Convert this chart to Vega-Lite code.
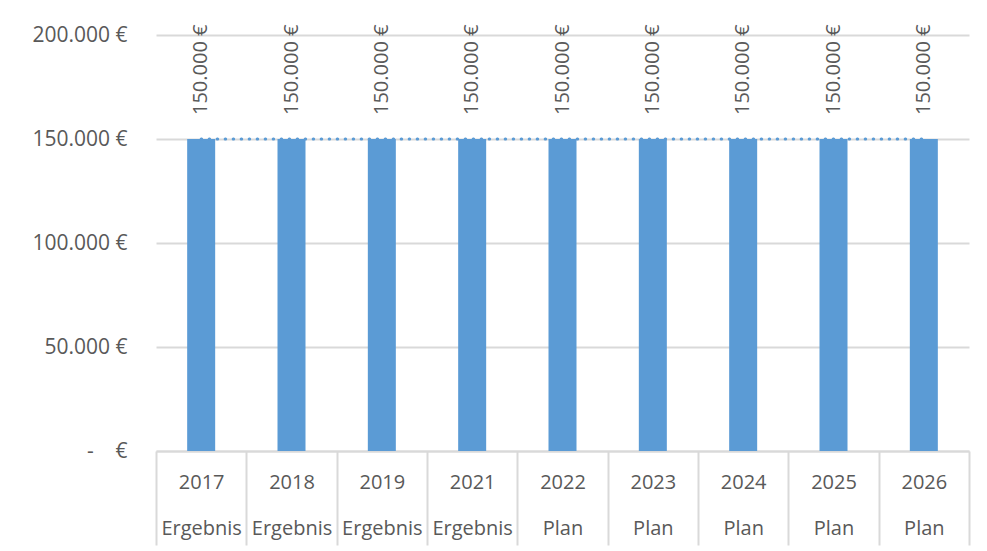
{
  "$schema": "https://vega.github.io/schema/vega-lite/v6.json",
  "width": 813,
  "height": 416,
  "autosize": {"type": "none"},
  "padding": {"left": 156, "top": 35, "right": 18, "bottom": 100},
  "background": "white",
  "config": {
    "locale": {"number": {"decimal": ",", "thousands": ".", "grouping": [3], "currency": ["", " €"]}},
    "view": {"stroke": null},
    "font": "Open Sans"
  },
  "data": {"values": [
    {"key": "2017|Ergebnis", "jahr": "2017", "art": "Ergebnis", "wert": 150000, "ziel": 150000},
    {"key": "2018|Ergebnis", "jahr": "2018", "art": "Ergebnis", "wert": 150000, "ziel": 150000},
    {"key": "2019|Ergebnis", "jahr": "2019", "art": "Ergebnis", "wert": 150000, "ziel": 150000},
    {"key": "2021|Ergebnis", "jahr": "2021", "art": "Ergebnis", "wert": 150000, "ziel": 150000},
    {"key": "2022|Plan", "jahr": "2022", "art": "Plan", "wert": 150000, "ziel": 150000},
    {"key": "2023|Plan", "jahr": "2023", "art": "Plan", "wert": 150000, "ziel": 150000},
    {"key": "2024|Plan", "jahr": "2024", "art": "Plan", "wert": 150000, "ziel": 150000},
    {"key": "2025|Plan", "jahr": "2025", "art": "Plan", "wert": 150000, "ziel": 150000},
    {"key": "2026|Plan", "jahr": "2026", "art": "Plan", "wert": 150000, "ziel": 150000}
  ]},
  "encoding": {
    "x": {
      "field": "key", "type": "nominal", "sort": null,
      "scale": {"paddingInner": 0.69, "paddingOuter": 0.345},
      "axis": {
        "title": null,
        "labelAngle": 0,
        "labelExpr": "isString(datum.value) ? split(datum.value, '|') : ''",
        "labelFont": "Open Sans",
        "labelFontSize": 20,
        "labelColor": "#595959",
        "labelLineHeight": 46,
        "labelPadding": -73,
        "labelOffset": 31.165,
        "ticks": true,
        "tickExtra": true,
        "bandPosition": 3.2258,
        "tickOffset": -31.165,
        "tickSize": 94,
        "tickWidth": 2,
        "tickColor": "#d9d9d9",
        "domainColor": "#d9d9d9",
        "domainWidth": 2,
        "grid": false
      }
    }
  },
  "layer": [
    {
      "mark": {"type": "bar", "color": "#5b9bd5"},
      "encoding": {
        "y": {
          "field": "wert", "type": "quantitative",
          "scale": {"domain": [0, 200000], "nice": false},
          "axis": {
            "title": null,
            "values": [0, 50000, 100000, 150000, 200000],
            "format": "$,.0f",
            "labelExpr": "datum.value === 0 ? '-\u00a0\u00a0\u00a0\u00a0€' : datum.label",
            "labelFont": "Open Sans",
            "labelFontSize": 21,
            "labelColor": "#595959",
            "labelPadding": 29,
            "ticks": false,
            "domain": false,
            "gridColor": "#d9d9d9",
            "gridWidth": 2
          }
        }
      }
    },
    {
      "mark": {"type": "line", "color": "#5b9bd5", "strokeWidth": 3, "strokeDash": [0.5, 7.5], "strokeCap": "round"},
      "encoding": {"y": {"field": "ziel", "type": "quantitative"}}
    },
    {
      "mark": {"type": "text", "angle": 270, "align": "left", "baseline": "middle", "dx": 24, "font": "Open Sans", "fontSize": 20, "color": "#595959"},
      "encoding": {
        "y": {"field": "wert", "type": "quantitative"},
        "text": {"field": "wert", "type": "quantitative", "format": "$,.0f"}
      }
    }
  ]
}
